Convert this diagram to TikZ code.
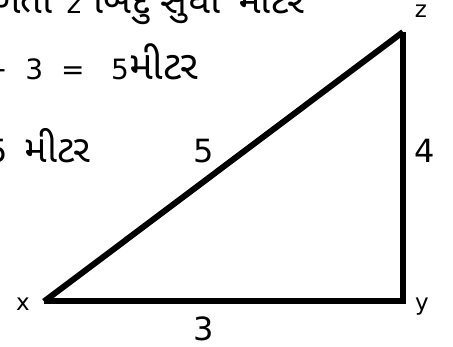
\documentclass[tikz,border=0pt]{standalone}
\usepackage{fontspec}
\setmainfont{DejaVu Sans}
\newfontfamily\guj[Script=Gujarati]{Noto Sans Gujarati UI}
\begin{document}
\begin{tikzpicture}[x=1pt,y=1pt,
  num/.style={inner sep=0pt,anchor=base,font=\fontsize{32}{36}\selectfont},
  vlbl/.style={inner sep=0pt,anchor=base,font=\fontsize{23}{26}\selectfont},
  txt/.style={inner sep=0pt,anchor=base west,font=\fontsize{28}{32}\selectfont},
  side/.style={line width=6pt}]
\useasboundingbox (0,0) rectangle (453,347);
\clip (0,0) rectangle (453,347);
% triangle vertices
\coordinate (X) at (44,45.5);
\coordinate (Y) at (403,45.5);
\coordinate (Z) at (403,315);
\draw[side,line join=miter] (X) -- (Y) -- (Z);
\draw[side] (Z) -- (X);
% vertex labels
\node[vlbl] (lx) at (23,36) {x};
\node[vlbl] (ly) at (422,36) {y};
\node[vlbl] (lz) at (421,329) {z};
% side labels
\node[num] (l3) at (204,6) {3};
\node[num] (l4) at (425,184) {4};
\node[num] (l5) at (204,184) {5};
% text lines
\node[txt] (t1) at (-8,333) {{\guj\fontsize{38}{42}\selectfont ળતા}\hspace{14pt}z\hspace{12pt}{\guj\fontsize{38}{42}\selectfont બિંદુ સુધી\hspace{18pt}મીટર}};
\node[txt] (t2) at (-16,267) {+ \ 3 \ = \ \ 5{\guj\fontsize{40}{44}\selectfont મીટર}};
\node[txt] (t3) at (-13,184) {\fontsize{32}{36}\selectfont 5\hspace{17pt}{\guj\fontsize{38}{42}\selectfont મીટર}};
\end{tikzpicture}
\end{document}
